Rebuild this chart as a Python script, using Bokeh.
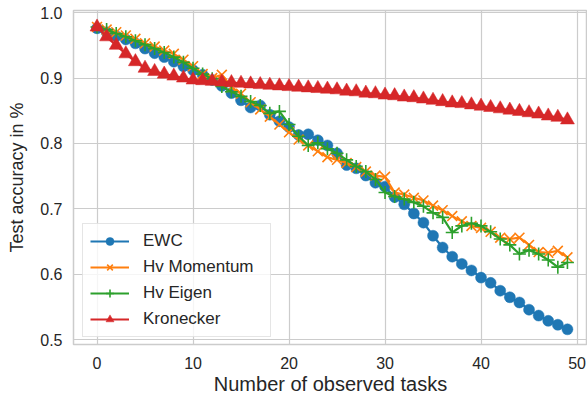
from bokeh.plotting import figure
from bokeh.models import Range1d, FixedTicker, Legend
from bokeh.embed import file_html
from bokeh.resources import INLINE

tasks = list(range(50))

ewc = [0.976, 0.970, 0.964, 0.959, 0.953, 0.945, 0.938, 0.932, 0.925, 0.918,
       0.912, 0.905, 0.897, 0.888, 0.877, 0.866, 0.855, 0.858, 0.844, 0.834,
       0.825, 0.813, 0.814, 0.805, 0.797, 0.785, 0.767, 0.762, 0.751, 0.740,
       0.734, 0.718, 0.707, 0.693, 0.679, 0.659, 0.641, 0.627, 0.616, 0.606,
       0.595, 0.587, 0.575, 0.565, 0.557, 0.546, 0.537, 0.529, 0.523, 0.516]

hv_momentum = [0.978, 0.974, 0.970, 0.965, 0.960, 0.953, 0.948, 0.942, 0.937, 0.928,
               0.918, 0.906, 0.900, 0.905, 0.886, 0.876, 0.863, 0.852, 0.841, 0.829,
               0.817, 0.806, 0.797, 0.788, 0.779, 0.775, 0.770, 0.764, 0.757, 0.751,
               0.749, 0.725, 0.722, 0.717, 0.713, 0.705, 0.698, 0.689, 0.681, 0.674,
               0.671, 0.665, 0.656, 0.654, 0.656, 0.645, 0.634, 0.633, 0.636, 0.626]

hv_eigen = [0.978, 0.974, 0.968, 0.963, 0.957, 0.951, 0.945, 0.939, 0.932, 0.924,
            0.915, 0.906, 0.899, 0.887, 0.879, 0.872, 0.864, 0.858, 0.846, 0.849,
            0.829, 0.811, 0.797, 0.801, 0.792, 0.785, 0.775, 0.765, 0.757, 0.745,
            0.725, 0.719, 0.715, 0.710, 0.704, 0.694, 0.687, 0.664, 0.674, 0.678,
            0.674, 0.665, 0.654, 0.645, 0.631, 0.637, 0.631, 0.622, 0.611, 0.618]

kronecker = [0.978, 0.963, 0.950, 0.937, 0.925, 0.915, 0.910, 0.906, 0.903, 0.900,
             0.897, 0.896, 0.895, 0.894, 0.893, 0.892, 0.891, 0.890, 0.889, 0.888,
             0.887, 0.886, 0.885, 0.884, 0.883, 0.882, 0.880, 0.879, 0.877, 0.876,
             0.874, 0.873, 0.871, 0.870, 0.868, 0.866, 0.864, 0.862, 0.861, 0.859,
             0.857, 0.855, 0.853, 0.851, 0.849, 0.847, 0.845, 0.842, 0.840, 0.836]

x_ticks = [0, 10, 20, 30, 40, 50]
y_ticks = [0.5, 0.6, 0.7, 0.8, 0.9, 1.0]

FONT = "Liberation Sans"
TXT = "#262626"
GRID = "#cccccc"

p = figure(width=587, height=397, output_backend="svg", toolbar_location=None,
           x_range=Range1d(-2.45, 51.09), y_range=Range1d(0.4928, 1.0032),
           min_border_left=73, min_border_top=10, min_border_right=0, min_border_bottom=50)

p.background_fill_color = "white"
p.border_fill_color = "white"
p.outline_line_color = GRID
p.outline_line_width = 1.5

p.xaxis.ticker = FixedTicker(ticks=x_ticks)
p.yaxis.ticker = FixedTicker(ticks=y_ticks)
p.yaxis.major_label_overrides = {v: f"{v:.1f}" for v in y_ticks}
p.xgrid.ticker = FixedTicker(ticks=x_ticks)
p.ygrid.ticker = FixedTicker(ticks=y_ticks)

for ax in (p.xaxis[0], p.yaxis[0]):
    ax.axis_line_color = None
    ax.major_tick_line_color = None
    ax.minor_tick_line_color = None
    ax.major_tick_out = 0
    ax.major_tick_in = 0
    ax.minor_tick_out = 0
    ax.minor_tick_in = 0
    ax.major_label_text_font = FONT
    ax.major_label_text_font_size = "16px"
    ax.major_label_text_color = TXT
    ax.axis_label_text_font = FONT
    ax.axis_label_text_font_style = "normal"
    ax.axis_label_text_color = TXT

p.xaxis.axis_label = "Number of observed tasks"
p.xaxis.axis_label_text_font_size = "20px"
p.yaxis.axis_label = "Test accuracy in %"
p.yaxis.axis_label_text_font_size = "18px"
p.xaxis.major_label_standoff = 12
p.xaxis.axis_label_standoff = 1
p.yaxis.major_label_standoff = 11
p.yaxis.axis_label_standoff = 10

p.grid.grid_line_color = GRID
p.grid.grid_line_width = 1.2

series = [
    ("EWC", ewc, "#1f77b4", "circle", 11, 0),
    ("Hv Momentum", hv_momentum, "#ff7f0e", "x", 14, 1.6),
    ("Hv Eigen", hv_eigen, "#2ca02c", "cross", 13, 1.6),
    ("Kronecker", kronecker, "#d62728", "triangle", 14, 0),
]

items = []
for name, vals, col, mk, sz, lw in series:
    r1 = p.line(tasks, vals, line_color=col, line_width=2.2)
    if lw == 0:
        r2 = p.scatter(tasks, vals, marker=mk, size=sz, fill_color=col, line_color=col, line_width=0.5)
    else:
        r2 = p.scatter(tasks, vals, marker=mk, size=sz, line_color=col, line_width=lw)
    items.append((name, [r1, r2]))

legend = Legend(items=items, location=(9, 7))
legend.label_text_font = FONT
legend.label_text_font_size = "17px"
legend.label_text_color = TXT
legend.glyph_width = 39
legend.glyph_height = 20
legend.label_height = 20
legend.label_width = 120
legend.label_standoff = 14
legend.spacing = 6
legend.padding = 7
legend.margin = 0
legend.border_line_color = GRID
legend.border_line_width = 1
legend.background_fill_color = "white"
legend.background_fill_alpha = 0.8
p.add_layout(legend, "center")

open("out.html", "w").write(file_html(p, INLINE))
